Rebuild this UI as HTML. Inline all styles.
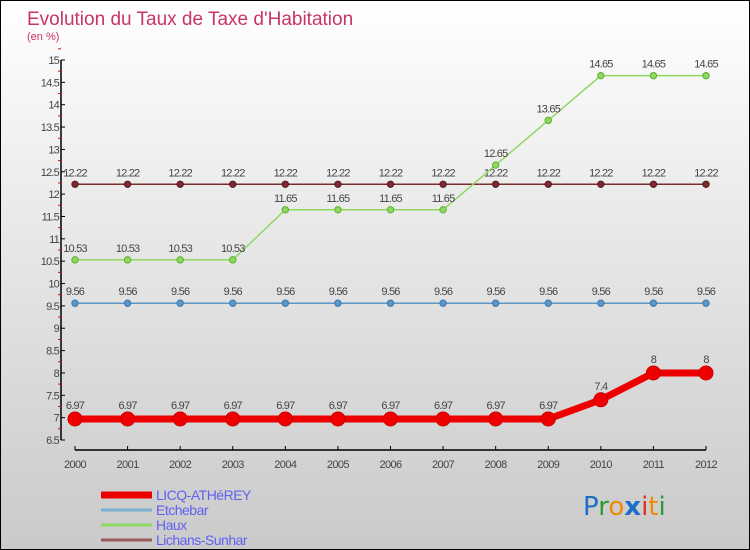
<!DOCTYPE html>
<html><head><meta charset="utf-8"><style>
html,body{margin:0;padding:0}
body{width:750px;height:550px;overflow:hidden;font-family:"Liberation Sans",sans-serif}
#wrap{position:relative;width:748px;height:548px;border:1px solid #000;background:linear-gradient(#ffffff,#f4f4f4 20%,#d4d4d4 80%,#cacaca)}
</style></head><body>
<div id="wrap">
<svg id="chart" width="748" height="548" style="position:absolute;left:0;top:0;font-family:'Liberation Sans',sans-serif">
<text x="26" y="24" font-size="19" fill="#c8336a">Evolution du Taux de Taxe d'Habitation</text>
<text x="26" y="39" font-size="11" fill="#c8336a">(en %)</text>
<g id="axes"></g><g id="series"></g><g id="legend"></g>
<text x="582" y="514" font-size="26" font-family="'DejaVu Sans',sans-serif"><tspan fill="#1a6fc8">P</tspan><tspan fill="#2a9a3a">r</tspan><tspan fill="#f08a00">o</tspan><tspan fill="#1a6fc8" font-weight="bold">x</tspan><tspan fill="#e03020">i</tspan><tspan fill="#f08a00">t</tspan><tspan fill="#2a9a3a">i</tspan></text>
</svg>
</div>
<script>
const years=[2000,2001,2002,2003,2004,2005,2006,2007,2008,2009,2010,2011,2012];
const licq=[6.97,6.97,6.97,6.97,6.97,6.97,6.97,6.97,6.97,6.97,7.4,8,8];
const etchebar=[9.56,9.56,9.56,9.56,9.56,9.56,9.56,9.56,9.56,9.56,9.56,9.56,9.56];
const haux=[10.53,10.53,10.53,10.53,11.65,11.65,11.65,11.65,12.65,13.65,14.65,14.65,14.65];
const lichans=[12.22,12.22,12.22,12.22,12.22,12.22,12.22,12.22,12.22,12.22,12.22,12.22,12.22];
const yTicks=[6.5,7,7.5,8,8.5,9,9.5,10,10.5,11,11.5,12,12.5,13,13.5,14,14.5,15];
const names=["LICQ-ATHéREY","Etchebar","Haux","Lichans-Sunhar"];
const NS="http://www.w3.org/2000/svg";
const X=i=>74+i*(705-74)/(years.length-1);
const Y=v=>439-(v-6.5)*(380/8.5);
function mk(tag,attrs,parent,txt){const e=document.createElementNS(NS,tag);for(const k in attrs)e.setAttribute(k,attrs[k]);if(txt!==undefined)e.textContent=txt;parent.appendChild(e);return e;}
const ax=document.getElementById('axes');
let a=mk('line',{x1:60,y1:Y(15),x2:60,y2:Y(6.5),stroke:'#000','stroke-width':1.5},ax);

yTicks.forEach(t=>{
 mk('line',{x1:60,y1:Y(t),x2:64,y2:Y(t),stroke:'#000'},ax);
 mk('line',{x1:57,y1:Y(t+0.25),x2:60,y2:Y(t+0.25),stroke:'#e00'},ax);
 const l=mk('text',{x:58,y:Y(t)+4,'font-size':11,'text-anchor':'end',fill:'#444','letter-spacing':'-0.8'},ax,String(t));
 
});
a=mk('line',{x1:74,y1:449,x2:705,y2:449,stroke:'#000','stroke-width':1.5},ax);

years.forEach((y,i)=>{
 mk('line',{x1:X(i),y1:445,x2:X(i),y2:449,stroke:'#000'},ax);
 const l=mk('text',{x:X(i),y:467,'font-size':11,'text-anchor':'middle',fill:'#444','letter-spacing':'-0.6'},ax,String(y));
 
});
const sg=document.getElementById('series');
const defs=[[lichans,'#7a2a30','#5a1a20',1.5,3.2,'lichans-sunhar'],[etchebar,'#5a96c8','#3a78b0',1.5,3.2,'etchebar'],[haux,'#8ed860','#5cb030',1.5,3.2,'haux'],[licq,'#ee0000','#cc0000',7,7,'licq-atherey']];
defs.forEach(([d,c,fc,w,r,n])=>{
 const g=mk('g',{},sg);
 const p=mk('polyline',{points:d.map((v,i)=>X(i)+','+Y(v)).join(' '),fill:'none',stroke:c,'stroke-width':w},g);
 
 d.forEach((v,i)=>{
  const pt=mk('circle',{cx:X(i),cy:Y(v),r:r,fill:c,stroke:fc,'stroke-width':1},g);
  
  const lb=mk('text',{x:X(i),y:Y(v)-(w>5?10:8),'font-size':11,'text-anchor':'middle',fill:'#444','letter-spacing':'-0.8'},g,String(v));
  
 });
});
const lg=document.getElementById('legend');
const lc=[['#ee0000',7],['#7ab0d0',3],['#8ed860',3],['#9a5a5a',3]];
names.forEach((n,i)=>{
 const y=493+i*15;
 const g=mk('g',{},lg);
 mk('line',{x1:100,y1:y+1,x2:151,y2:y+1,stroke:lc[i][0],'stroke-width':lc[i][1]},g);
 mk('text',{x:155,y:y+6,'font-size':14,fill:'#6060f0','letter-spacing':'-0.5'},g,n);
});
</script>
</body></html>
